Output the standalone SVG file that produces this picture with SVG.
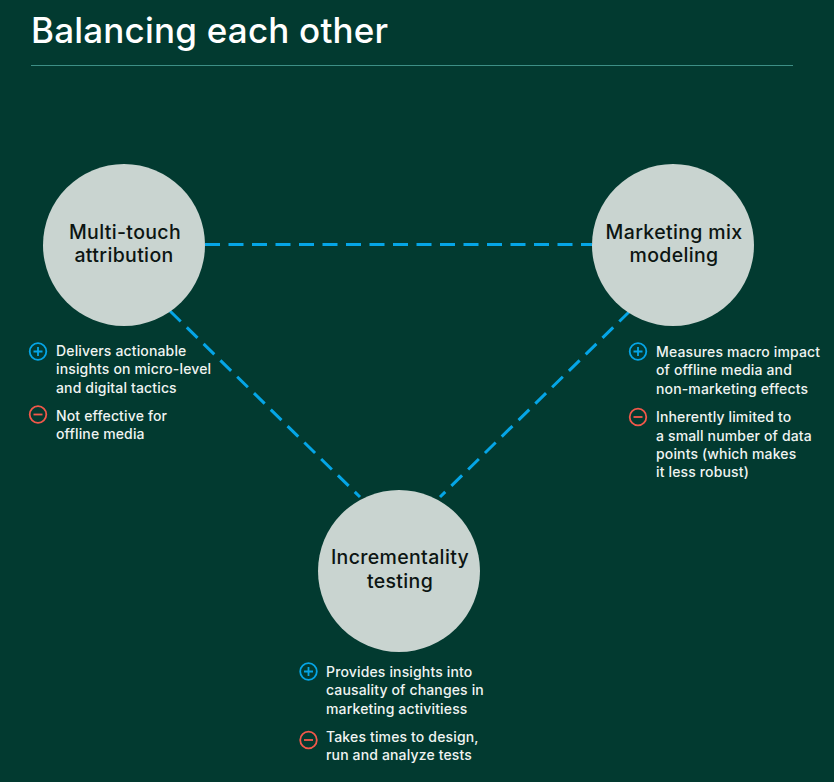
<svg xmlns="http://www.w3.org/2000/svg" width="834" height="782" viewBox="0 0 834 782">
<style>
text{font-family:Inter,"Liberation Sans",sans-serif}
.t{fill:#ffffff;font-size:35px;font-weight:500;letter-spacing:.2px}
.n{fill:#0c1512;font-size:19.5px;font-weight:500;text-anchor:middle;letter-spacing:.35px}
.b{fill:#f0f4f2;font-size:14px;font-weight:500;letter-spacing:.15px}
.c{fill:#c9d4d0}
.l{stroke:#05a5e6;stroke-width:3;stroke-dasharray:15 8.500;fill:none}
.ip{fill:none;stroke:#05a5e6;stroke-width:1.8}
.im{fill:none;stroke:#f2584a;stroke-width:1.8}
</style>
<defs>
<g id="plus"><circle class="ip" r="8.300"/><path class="ip" d="M-4.500 0H4.500M0-4.500V4.500"/></g>
<g id="minus"><circle class="im" r="8.300"/><path class="im" d="M-4.500 0H4.500"/></g>
</defs>
<rect width="834" height="782" fill="#023a30"/>
<text class="t" x="31" y="43">Balancing each other</text>
<path d="M31 65.500H793" stroke="#3d8f86" stroke-width="1"/>
<g id="connectors">
<path class="l" d="M205 244.500H592"/>
<path class="l" d="M170 311L360 497"/>
<path class="l" d="M630 311L440 497"/>
</g>
<g id="node-mta">
<circle class="c" cx="124" cy="245" r="81"/>
<text class="n" x="125" y="239">Multi-touch</text>
<text class="n" x="124" y="262">attribution</text>
</g>
<g id="node-mmm">
<circle class="c" cx="673" cy="245" r="81"/>
<text class="n" x="674" y="239">Marketing mix</text>
<text class="n" x="674" y="262">modeling</text>
</g>
<g id="node-inc">
<circle class="c" cx="399" cy="571" r="81"/>
<text class="n" x="400" y="564">Incrementality</text>
<text class="n" x="400" y="588">testing</text>
</g>
<g id="notes-mta">
<use href="#plus" x="38" y="351.500"/>
<text class="b" x="56" y="356">Delivers actionable</text>
<text class="b" x="56" y="374">insights on micro-level</text>
<text class="b" x="56" y="393">and digital tactics</text>
<use href="#minus" x="38" y="414.500"/>
<text class="b" x="56" y="420.500">Not effective for</text>
<text class="b" x="56" y="439">offline media</text>
</g>
<g id="notes-mmm">
<use href="#plus" x="638" y="351.500"/>
<text class="b" x="656" y="356.500">Measures macro impact</text>
<text class="b" x="656" y="375">of offline media and</text>
<text class="b" x="656" y="393.500">non-marketing effects</text>
<use href="#minus" x="638" y="417"/>
<text class="b" x="656" y="422">Inherently limited to</text>
<text class="b" x="656" y="441">a small number of data</text>
<text class="b" x="656" y="459">points (which makes</text>
<text class="b" x="656" y="477">it less robust)</text>
</g>
<g id="notes-inc">
<use href="#plus" x="308.500" y="671.500"/>
<text class="b" x="326" y="676.500">Provides insights into</text>
<text class="b" x="326" y="695">causality of changes in</text>
<text class="b" x="326" y="713.500">marketing activitiess</text>
<use href="#minus" x="308.500" y="740"/>
<text class="b" x="326" y="742">Takes times to design,</text>
<text class="b" x="326" y="760">run and analyze tests</text>
</g>
</svg>
